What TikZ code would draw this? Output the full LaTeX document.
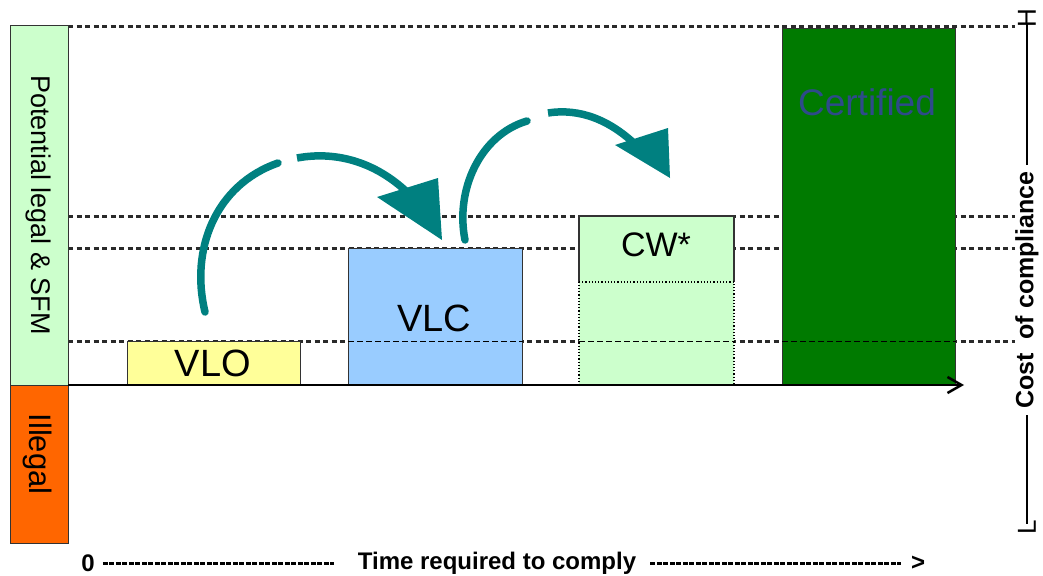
\documentclass[tikz,border=0pt]{standalone}
\usepackage{fontspec}
\setmainfont{Liberation Sans}
\usetikzlibrary{arrows.meta}
\definecolor{lgreen}{HTML}{CCFFCC}
\definecolor{orng}{HTML}{FF6600}
\definecolor{lyel}{HTML}{FFFF99}
\definecolor{lblue}{HTML}{99CCFF}
\definecolor{dgreen}{HTML}{007A00}
\definecolor{tealc}{HTML}{008080}
\definecolor{certtxt}{HTML}{2E4A8A}
\definecolor{guide}{HTML}{2A2A2A}
\definecolor{bord}{HTML}{333333}
\tikzset{
  guideline/.style={draw=guide, line width=3pt, dash pattern=on 5pt off 3.5pt},
  innerdash/.style={draw=black, line width=1pt, dash pattern=on 6pt off 3pt},
  bar/.style={draw=bord, line width=1.4pt},
  flow/.style={draw=tealc, line width=7.5pt},
  tiph/.style={fill=tealc},
  lbl/.style={inner sep=0pt, font=\fontsize{38}{42}\selectfont},
  bottomtxt/.style={inner sep=0pt, font=\bfseries\fontsize{24}{28}\selectfont},
  sidetxt/.style={rotate=90, inner sep=0pt, font=\fontsize{26}{28}\selectfont},
  dashrule/.style={line width=3pt, dash pattern=on 5pt off 1.5pt},
}
\begin{document}
\begin{tikzpicture}[x=1pt,y=-1pt]
\useasboundingbox (0,0) rectangle (1043,575);
% guide lines
\coordinate (g1a) at (68,27);  \coordinate (g1b) at (1015,27);
\coordinate (g2a) at (68,216); \coordinate (g2b) at (1015,216);
\coordinate (g3a) at (68,248); \coordinate (g3b) at (1015,248);
\coordinate (g4a) at (68,341); \coordinate (g4b) at (1015,341);
\draw[guideline] (g1a) -- (g1b);
\draw[guideline] (g2a) -- (g2b);
\draw[guideline] (g3a) -- (g3b);
\draw[guideline] (g4a) -- (g4b);
% left bars
\node[bar, fill=lgreen, minimum width=58pt, minimum height=360pt, anchor=north west, inner sep=0pt] (legal) at (10,25) {};
\node[bar, fill=orng, minimum width=58pt, minimum height=158pt, anchor=north west, inner sep=0pt] (illegal) at (10,385) {};
\node[rotate=-90, inner sep=0pt, font=\fontsize{27}{30}\selectfont] (legaltxt) at (38,205) {Potential legal \& SFM};
\node[rotate=-90, inner sep=0pt, font=\fontsize{31}{34}\selectfont] (illtxt) at (38,454) {Illegal};
% boxes
\node[bar, fill=lyel, minimum width=173pt, minimum height=44pt, anchor=north west, inner sep=0pt] (vlo) at (127,341) {};
\node[lbl] (vlotxt) at (213,363) {VLO};
\node[bar, fill=lblue, minimum width=174pt, minimum height=137pt, anchor=north west, inner sep=0pt] (vlc) at (348,248) {};
\node[lbl] (vlctxt) at (434,318) {VLC};
\fill[lgreen] (579,216) rectangle (734,385);
\draw[bar] (579,282) -- (579,216) -- (734,216) -- (734,282);
\draw[black, line width=1.2pt, dotted] (579,282) -- (734,282) -- (734,385) -- (579,385) -- cycle;
\node[inner sep=0pt, font=\fontsize{34}{38}\selectfont] (cwtxt) at (656,245) {CW*};
\node[bar, fill=dgreen, minimum width=173pt, minimum height=357pt, anchor=north west, inner sep=0pt] (cert) at (782,28) {};
\node[inner sep=0pt, text=certtxt, font=\fontsize{37}{40}\selectfont] (certtxt) at (867,102) {Certified};
% inner dashes
\draw[innerdash] (vlc.west |- 0,341) -- (vlc.east |- 0,341);
\draw[innerdash] (579,341) -- (734,341);
\draw[innerdash] (cert.west |- 0,341) -- (cert.east |- 0,341);
% axis
\coordinate (ax0) at (68,385);
\coordinate (ax1) at (964,385);
\draw[line width=2.5pt, -{Straight Barb[length=14pt,width=16pt,line width=2.5pt]}] (ax0) -- (ax1);
% arrows
\coordinate (a1s) at (205,312); \coordinate (a1m) at (278,163);
\coordinate (a1n) at (297,158); \coordinate (a1e) at (410,195);
\draw[flow, line cap=round] (a1s) .. controls (190,250) and (215,185) .. (a1m);
\draw[flow] (a1n) .. controls (340,150) and (380,165) .. (a1e);
\fill[tiph] (377,197) -- (438,178) -- (442,240) -- cycle;
\coordinate (a2s) at (465,240); \coordinate (a2m) at (527,121);
\coordinate (a2n) at (548,113); \coordinate (a2e) at (637,146);
\draw[flow, line cap=round] (a2s) .. controls (455,190) and (480,135) .. (a2m);
\draw[flow] (a2n) .. controls (580,108) and (610,120) .. (a2e);
\fill[tiph] (615,145) -- (668,128) -- (670,178) -- cycle;
% bottom label
\node[bottomtxt] (zero) at (88,563) {0};
\node[bottomtxt] (timetxt) at (497,563) {Time required to comply};
\node[bottomtxt] (gt) at (918,563) {>};
\draw[dashrule] ([xshift=8pt]zero.east) -- ([xshift=-24pt]timetxt.west);
\draw[dashrule] ([xshift=14pt]timetxt.east) -- ([xshift=-10pt]gt.west);
% right label
\node[sidetxt] (lowL) at (1027,527) {L};
\node[sidetxt] (highH) at (1027,18) {H};
\node[sidetxt, font=\bfseries\fontsize{25}{28}\selectfont] (costtxt) at (1027,290) {Cost\ \ of compliance};
\draw[line width=2.2pt] ([yshift=-4pt]lowL.east) -- ([yshift=-6pt]costtxt.west);
\draw[line width=2.2pt] ([yshift=6pt]costtxt.east) -- ([yshift=4pt]highH.west);
\end{tikzpicture}
\end{document}
